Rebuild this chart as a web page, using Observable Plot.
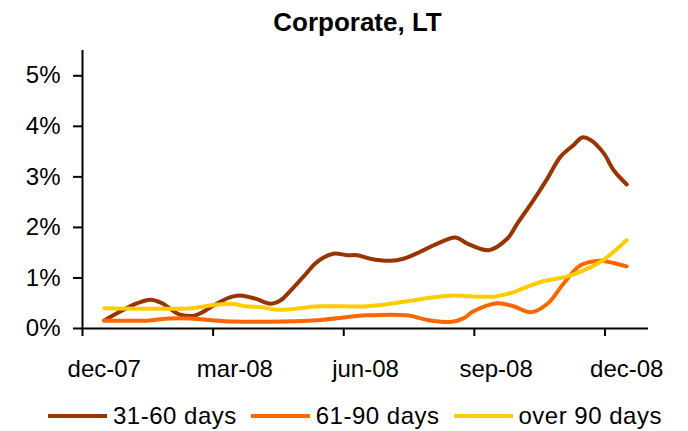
<!DOCTYPE html>
<html><head><meta charset="utf-8">
<script src="https://cdn.jsdelivr.net/npm/d3@7"></script>
<script src="https://cdn.jsdelivr.net/npm/@observablehq/plot@0.6"></script>
<style>
body{margin:0;background:#fff;font-family:"Liberation Sans",Arial,sans-serif;color:#000}
#wrap{width:688px;height:431px;position:relative;overflow:hidden}
#title{height:44px;line-height:44px;font-size:26px;font-weight:bold;text-align:center;padding-left:27px;box-sizing:border-box}
#legend{display:flex;align-items:center;height:37px;margin-top:3px;padding-left:48px;font-size:24px;letter-spacing:0.5px;white-space:nowrap}
.item{display:flex;align-items:center;margin-right:14px}
.sw{width:59px;height:4px;margin-right:6px}
</style></head>
<body><div id="wrap"><div id="title">Corporate, LT</div><div id="chart"></div><div id="legend"></div></div>
<script>
// Series
const seriesNames = ["31-60 days", "61-90 days", "over 90 days"];
const seriesColors = ["#993300", "#FF6600", "#FFCC00"];

// months since dec-07 and values in %
const m3160 = [0, 0.76, 1.06, 1.33, 1.72, 2.09, 2.25, 2.64, 2.94, 3.17, 3.47, 3.82, 4.05, 4.28, 4.57, 4.89, 5.26, 5.58, 5.81, 6.11, 6.57, 6.87, 7.19, 7.65, 8.07, 8.34, 8.83, 9.26, 9.49, 9.86, 10.18, 10.48, 10.78, 10.98, 11.17, 11.47, 11.70, 12.0];
const v3160 = [0.16, 0.50, 0.57, 0.50, 0.28, 0.26, 0.32, 0.52, 0.63, 0.65, 0.59, 0.49, 0.56, 0.75, 1.02, 1.32, 1.48, 1.45, 1.45, 1.38, 1.34, 1.38, 1.49, 1.68, 1.80, 1.68, 1.55, 1.78, 2.08, 2.54, 2.97, 3.40, 3.63, 3.78, 3.73, 3.47, 3.13, 2.85];

const m6190 = [0, 1.03, 1.49, 1.95, 2.41, 2.94, 4.09, 4.97, 6.04, 6.96, 7.42, 7.95, 8.25, 8.48, 9.03, 9.40, 9.79, 10.18, 10.55, 10.94, 11.40, 11.56, 12.0];
const v6190 = [0.16, 0.16, 0.20, 0.20, 0.17, 0.14, 0.14, 0.17, 0.26, 0.26, 0.17, 0.13, 0.20, 0.34, 0.50, 0.44, 0.32, 0.49, 0.89, 1.25, 1.34, 1.32, 1.23];

const mOver90 = [0, 1.79, 2.02, 2.48, 2.94, 3.24, 3.63, 3.97, 4.97, 6.04, 6.96, 7.49, 7.95, 8.94, 9.33, 10.02, 10.64, 11.01, 11.47, 12.0];
const vOver90 = [0.40, 0.39, 0.40, 0.46, 0.49, 0.44, 0.42, 0.37, 0.44, 0.44, 0.54, 0.61, 0.65, 0.63, 0.70, 0.92, 1.03, 1.15, 1.36, 1.75];

// Axis ticks
const yTicks = [0, 1, 2, 3, 4, 5];
const xTickMarks = [-0.5, 2.5, 5.5, 8.5, 11.5];
const xLabelPos = [0, 3, 6, 9, 12];
const xTickLabels = ["dec-07", "mar-08", "jun-08", "sep-08", "dec-08"];

const xs = [m3160, m6190, mOver90];
const vs = [v3160, v6190, vOver90];
const data = [];
seriesNames.forEach((name, i) => xs[i].forEach((m, j) => data.push({series: name, m, v: vs[i][j]})));

const chart = Plot.plot({
  width: 688, height: 350,
  marginLeft: 82, marginRight: 40, marginTop: 6, marginBottom: 66,
  style: {fontFamily: "'Liberation Sans', Arial, sans-serif", fontSize: "24px", color: "#000", background: "white", overflow: "visible"},
  x: {domain: [-0.5, 12.5]},
  y: {domain: [0, 5.5]},
  color: {domain: seriesNames, range: seriesColors},
  marks: [
    Plot.axisY({ticks: yTicks, tickSize: 9, tickPadding: 13, tickFormat: d => d + "%", label: null, strokeWidth: 2, fontSize: 24}),
    Plot.axisX({ticks: xTickMarks, tickSize: 8, tickFormat: () => "", label: null, strokeWidth: 2}),
    Plot.axisX({ticks: xLabelPos, tickSize: 0, tickPadding: 31, tickFormat: d => xTickLabels[xLabelPos.indexOf(d)], label: null, fontSize: 24}),
    Plot.ruleX([-0.5], {stroke: "#000", strokeWidth: 2}),
    Plot.ruleY([0], {stroke: "#000", strokeWidth: 2}),
    Plot.line(data, {x: "m", y: "v", z: "series", stroke: "series", strokeWidth: 4, curve: "catmull-rom"})
  ]
});
document.getElementById("chart").appendChild(chart);

const legend = document.getElementById("legend");
seriesNames.forEach((name, i) => {
  const item = document.createElement("div");
  item.className = "item";
  const sw = document.createElement("div");
  sw.className = "sw";
  sw.style.background = seriesColors[i];
  const t = document.createElement("span");
  t.textContent = name;
  item.appendChild(sw); item.appendChild(t);
  legend.appendChild(item);
});
</script></body></html>
